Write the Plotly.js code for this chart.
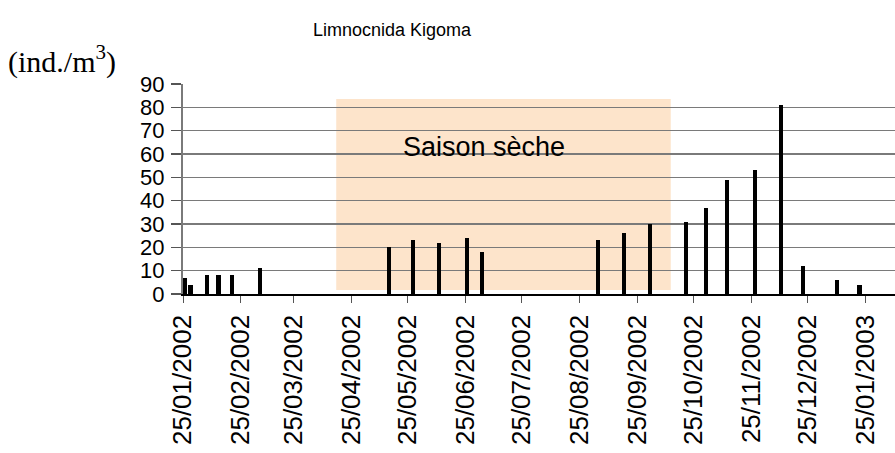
<!DOCTYPE html>
<html>
<head>
<meta charset="utf-8">
<script src="https://cdn.plot.ly/plotly-3.0.1.min.js"></script>
<style>
html,body{margin:0;padding:0;background:#fff;}
#chart{width:895px;height:453px;}
</style>
</head>
<body>
<div id="chart"></div>
<script>
// ---- data ----
const sampleDates = ['2002-01-26','2002-01-29','2002-02-07','2002-02-13','2002-02-20','2002-03-07',
  '2002-05-15','2002-05-28','2002-06-11','2002-06-26','2002-07-04',
  '2002-09-04','2002-09-18','2002-10-02','2002-10-21','2002-11-01','2002-11-12',
  '2002-11-27','2002-12-11','2002-12-23','2003-01-10','2003-01-22'];
const densities = [7,4,8,8,8,11,20,23,22,24,18,23,26,30,31,37,49,53,81,12,6,4];
const tickDates = ['2002-01-25','2002-02-25','2002-03-25','2002-04-25','2002-05-25','2002-06-25',
  '2002-07-25','2002-08-25','2002-09-25','2002-10-25','2002-11-25','2002-12-25','2003-01-25'];
const tickLabels = ['25/01/2002','25/02/2002','25/03/2002','25/04/2002','25/05/2002','25/06/2002',
  '25/07/2002','25/08/2002','25/09/2002','25/10/2002','25/11/2002','25/12/2002','25/01/2003'];
const yTicks = [0,10,20,30,40,50,60,70,80,90];
const drySeasonStart = '2002-04-17';
const drySeasonEnd = '2002-10-13';
const drySeasonLow = 1.7;
const drySeasonHigh = 83.6;
const drySeasonLabel = 'Saison sèche';
const drySeasonLabelDate = '2002-07-05';
const drySeasonLabelValue = 63;
const chartTitle = 'Limnocnida Kigoma';
const yUnit = '(ind./m<sup>3</sup>)';

const DAY = 86400000;
const font = 'Liberation Sans, Arial, sans-serif';

const trace = {
  type: 'bar',
  x: sampleDates,
  y: densities,
  width: sampleDates.map(() => 2.2 * DAY),
  marker: {color: '#000000', line: {width: 0}},
  hoverinfo: 'x+y'
};

const layout = {
  width: 895, height: 453,
  margin: {l: 183, r: 0, t: 84, b: 159, pad: 0},
  paper_bgcolor: '#ffffff',
  plot_bgcolor: 'rgba(0,0,0,0)',
  showlegend: false,
  bargap: 0,
  title: {
    text: chartTitle,
    font: {family: font, size: 18, color: '#000'},
    x: 0.438, xanchor: 'center', xref: 'container',
    y: 1 - 30/453, yanchor: 'middle', yref: 'container'
  },
  xaxis: {
    type: 'date',
    range: ['2002-01-25', '2003-02-10'],
    tickmode: 'array',
    tickvals: tickDates,
    ticktext: tickLabels,
    tickangle: -90,
    tickfont: {family: font, size: 26, color: '#000'},
    ticks: 'outside', ticklen: 7, tickwidth: 1, tickcolor: '#555',
    ticklabelstandoff: 2,
    showgrid: false,
    showline: true, linecolor: '#000', linewidth: 1.5,
    zeroline: false,
    fixedrange: true
  },
  yaxis: {
    range: [0, 90],
    tickmode: 'array',
    tickvals: yTicks,
    ticktext: yTicks.map(String),
    tickfont: {family: font, size: 22, color: '#000'},
    ticks: 'outside', ticklen: 10, tickwidth: 1.5, tickcolor: '#555',
    showgrid: true, gridcolor: '#7a7a7a', gridwidth: 1.5,
    showline: true, linecolor: '#7a7a7a', linewidth: 2,
    zeroline: false,
    ticklabelstandoff: 2,
    fixedrange: true
  },
  shapes: [{
    type: 'rect', layer: 'below',
    xref: 'x', yref: 'y',
    x0: drySeasonStart, x1: drySeasonEnd,
    y0: drySeasonLow, y1: drySeasonHigh,
    fillcolor: '#fde4cb', line: {width: 0}
  }],
  annotations: [
    {
      text: drySeasonLabel, xref: 'x', yref: 'y',
      x: drySeasonLabelDate, y: drySeasonLabelValue,
      xanchor: 'center', yanchor: 'middle', showarrow: false,
      font: {family: font, size: 27, color: '#000'}
    },
    {
      text: yUnit, xref: 'paper', yref: 'paper',
      x: (6 - 183) / 712, y: (294 - 59) / 210,
      xanchor: 'left', yanchor: 'middle', showarrow: false,
      font: {family: 'Liberation Serif, Times New Roman, serif', size: 30, color: '#000'}
    }
  ]
};

Plotly.newPlot('chart', [trace], layout, {displayModeBar: false, staticPlot: true});
</script>
</body>
</html>
